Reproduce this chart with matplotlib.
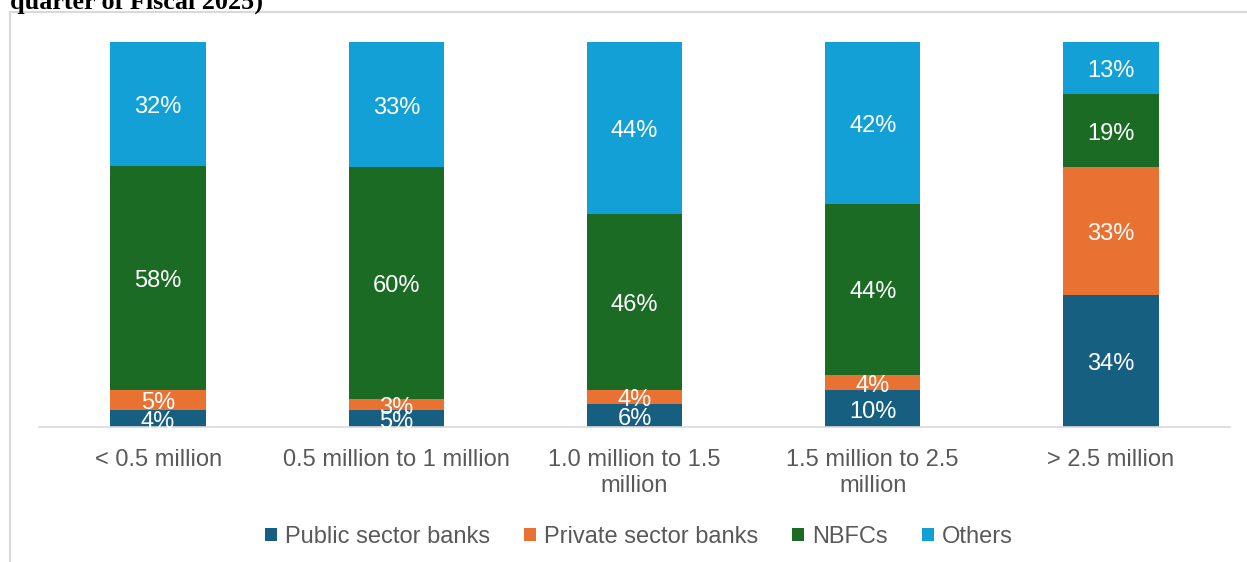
import numpy as np
import matplotlib.pyplot as plt
from matplotlib.patches import Rectangle

# categories and shares (%)
categories = ["< 0.5 million", "0.5 million to 1 million", "1.0 million to 1.5\nmillion",
              "1.5 million to 2.5\nmillion", "> 2.5 million"]
series_names = ["Public sector banks", "Private sector banks", "NBFCs", "Others"]
public = [4.3, 4.3, 5.9, 9.5, 34.3]
private = [5.2, 3.0, 3.6, 4.1, 33.2]
nbfc = [58.3, 60.2, 46.0, 44.4, 19.0]
others = [32.3, 32.5, 44.6, 42.0, 13.5]
labels = [[4, 5, 6, 10, 34],
          [5, 3, 4, 4, 33],
          [58, 60, 46, 44, 19],
          [32, 33, 44, 42, 13]]
colors = ["#175f80", "#e97132", "#1b6b25", "#12a0d7"]

plt.rcParams['font.family'] = ['Liberation Sans', 'DejaVu Sans']

data = np.array([public, private, nbfc, others])
data = data / data.sum(axis=0) * 100

fig = plt.figure(figsize=(12.47, 5.62), dpi=100)
ax = fig.add_axes([39 / 1247, 1 - 427 / 562, 1191 / 1247, 385 / 562])

x = np.arange(len(categories))
bottom = np.zeros(len(categories))
for i, name in enumerate(series_names):
    ax.bar(x, data[i], 0.4, bottom=bottom, color=colors[i], label=name)
    for j in range(len(categories)):
        ax.annotate(f"{labels[i][j]}%", (x[j], bottom[j] + data[i][j] / 2),
                    xytext=(0, -3), textcoords="offset pixels",
                    ha="center", va="center", color="white", fontsize=17)
    bottom += data[i]

ax.set_xlim(-0.5, len(categories) - 0.5)
ax.set_ylim(0, 100)
ax.set_yticks([])
ax.set_xticks(x)
ax.set_xticklabels(categories, fontsize=17, color="#595959")
ax.tick_params(axis="x", length=0, pad=16)
for s in ["top", "right", "left"]:
    ax.spines[s].set_visible(False)
ax.spines["bottom"].set_color("#d9d9d9")
ax.spines["bottom"].set_linewidth(1.2)

leg = fig.legend(loc="center", bbox_to_anchor=(639 / 1247, 1 - 537 / 562), ncol=4, frameon=False,
                 fontsize=17, handlelength=0.5, handleheight=0.5, handletextpad=0.35,
                 columnspacing=1.44)
for t in leg.get_texts():
    t.set_color("#595959")

# chart border (clipped at right and bottom)
fig.patches.append(Rectangle((10 / 1247, -0.1), 1.2, 1 - 12 / 562 + 0.1, transform=fig.transFigure,
                             fill=False, edgecolor="#d9d9d9", linewidth=1.5))

fig.text(10 / 1247, 1 - 9 / 562, "quarter of Fiscal 2025)", fontsize=18.8, fontweight="bold",
         family="Liberation Serif", ha="left", va="baseline")

fig.savefig("out.png", dpi=100)
